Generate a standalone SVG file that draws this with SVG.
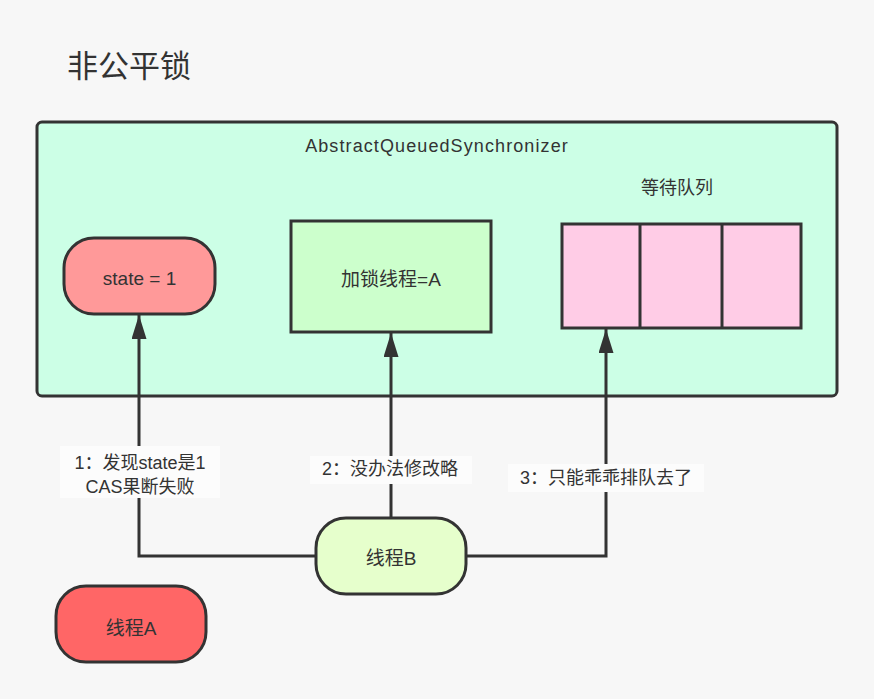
<svg xmlns="http://www.w3.org/2000/svg" width="874" height="699" viewBox="0 0 874 699">
<defs>
<style>
.t{font-family:"Liberation Sans","Noto Sans CJK SC",sans-serif;fill:#333;text-anchor:middle;dominant-baseline:central}
.s{stroke:#333;stroke-width:3}
.c{fill:none;stroke:#333;stroke-width:3}
</style>
<marker id="ah" markerWidth="24" markerHeight="15" refX="24" refY="7.5" orient="auto" markerUnits="userSpaceOnUse" viewBox="0 0 24 15">
<path d="M0,0 L24,7.5 L0,15 Z" fill="#333"/>
</marker>
</defs>
<rect width="874" height="699" fill="#f7f7f7"/>
<text x="67" y="66" class="t" style="text-anchor:start;font-size:31px">非公平锁</text>
<g id="aqs">
<rect x="37" y="122" width="800" height="274" rx="5" fill="#ccffe6" class="s"/>
<text x="437" y="146" class="t" style="font-size:18px;letter-spacing:1.1px">AbstractQueuedSynchronizer</text>
</g>
<g id="state">
<rect x="64" y="238" width="151" height="76" rx="30" fill="#ff9999" class="s"/>
<text x="139.5" y="278" class="t" style="font-size:19px">state = 1</text>
</g>
<g id="lockThread">
<rect x="291" y="221" width="200" height="111" fill="#ccffcc" class="s"/>
<text x="391" y="279" class="t" style="font-size:19px">加锁线程=A</text>
</g>
<g id="queue">
<text x="677" y="188" class="t" style="font-size:18px">等待队列</text>
<rect x="562" y="224" width="239" height="104" fill="#ffcce6" class="s"/>
<line x1="640" y1="224" x2="640" y2="328" class="s"/>
<line x1="722" y1="224" x2="722" y2="328" class="s"/>
</g>
<g id="connectors">
<path d="M316,556 H139 V315" class="c" marker-end="url(#ah)"/>
<path d="M391,517 V333" class="c" marker-end="url(#ah)"/>
<path d="M466,556 H606 V329" class="c" marker-end="url(#ah)"/>
<rect x="60" y="446" width="160" height="52" fill="#fcfcfc"/>
<text x="140" y="463" class="t" style="font-size:18px">1：发现state是1</text>
<text x="140" y="487" class="t" style="font-size:18px">CAS果断失败</text>
<rect x="310" y="456" width="162" height="28" fill="#fcfcfc"/>
<text x="390" y="469" class="t" style="font-size:18px">2：没办法修改略</text>
<rect x="508" y="464" width="196" height="28" fill="#fcfcfc"/>
<text x="606" y="478" class="t" style="font-size:18px">3：只能乖乖排队去了</text>
</g>
<g id="threadB">
<rect x="316" y="518" width="150" height="76" rx="30" fill="#e6ffcc" class="s"/>
<text x="391" y="558" class="t" style="font-size:19px">线程B</text>
</g>
<g id="threadA">
<rect x="56" y="586" width="150" height="76" rx="30" fill="#ff6666" class="s"/>
<text x="131" y="628" class="t" style="font-size:19px">线程A</text>
</g>
</svg>
